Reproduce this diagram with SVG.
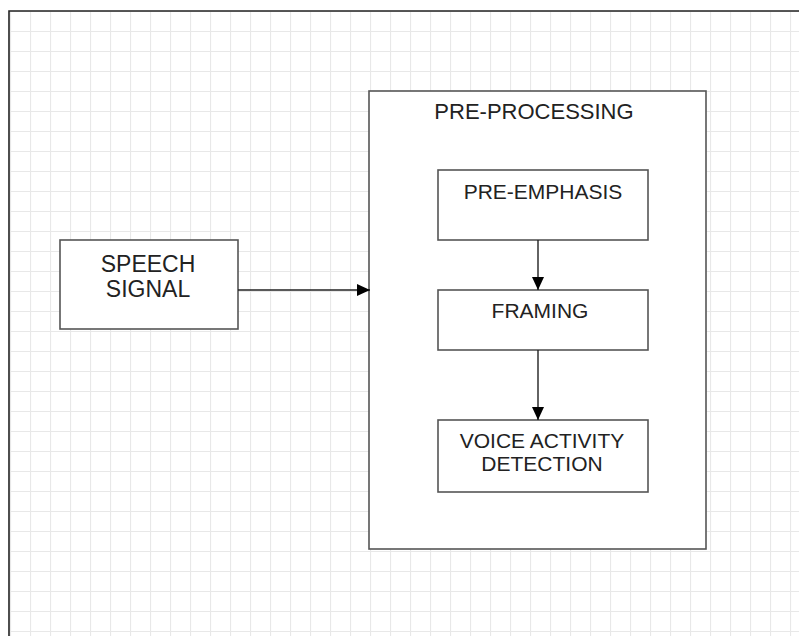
<svg xmlns="http://www.w3.org/2000/svg" width="799" height="636" viewBox="0 0 799 636">
<defs>
<pattern id="grid" x="10" y="11" width="20" height="20" patternUnits="userSpaceOnUse">
<path d="M0.5 0 V20 M0 0.5 H20" fill="none" stroke="#e8e8e8" stroke-width="1.2"/>
</pattern>
<marker id="arr" markerWidth="14" markerHeight="12" refX="13" refY="6" orient="auto" markerUnits="userSpaceOnUse">
<path d="M0 0 L13 6 L0 12 Z" fill="#000"/>
</marker>
</defs>
<style>
.box{fill:#fff;stroke:#555;stroke-width:1.6}
.t{font-family:"Liberation Sans",Arial,sans-serif;fill:#222;text-anchor:middle}
.conn{stroke:#222;stroke-width:1.4;fill:none}
</style>
<rect x="0" y="0" width="799" height="636" fill="#fff"/>
<rect x="10" y="11" width="789" height="625" fill="url(#grid)"/>
<path d="M9 636 V11 H799" fill="none" stroke="#222" stroke-width="1.6"/>
<g id="preprocessing">
<rect class="box" x="369" y="91" width="337" height="458"/>
<text class="t" x="534" y="119" font-size="22">PRE-PROCESSING</text>
</g>
<g id="speech-signal">
<rect class="box" x="60" y="240" width="178" height="89"/>
<text class="t" x="148" y="272" font-size="23">SPEECH</text>
<text class="t" x="148" y="297" font-size="23">SIGNAL</text>
</g>
<g id="pre-emphasis">
<rect class="box" x="438" y="170" width="210" height="70"/>
<text class="t" x="543" y="199" font-size="21">PRE-EMPHASIS</text>
</g>
<g id="framing">
<rect class="box" x="438" y="290" width="210" height="60"/>
<text class="t" x="540" y="318" font-size="21">FRAMING</text>
</g>
<g id="vad">
<rect class="box" x="438" y="420" width="210" height="72"/>
<text class="t" x="542" y="448" font-size="21">VOICE ACTIVITY</text>
<text class="t" x="542" y="471" font-size="21">DETECTION</text>
</g>
<g id="connectors">
<line class="conn" x1="238" y1="290" x2="370" y2="290" marker-end="url(#arr)"/>
<line class="conn" x1="538" y1="240" x2="538" y2="290" marker-end="url(#arr)"/>
<line class="conn" x1="538" y1="350" x2="538" y2="420" marker-end="url(#arr)"/>
</g>
</svg>
